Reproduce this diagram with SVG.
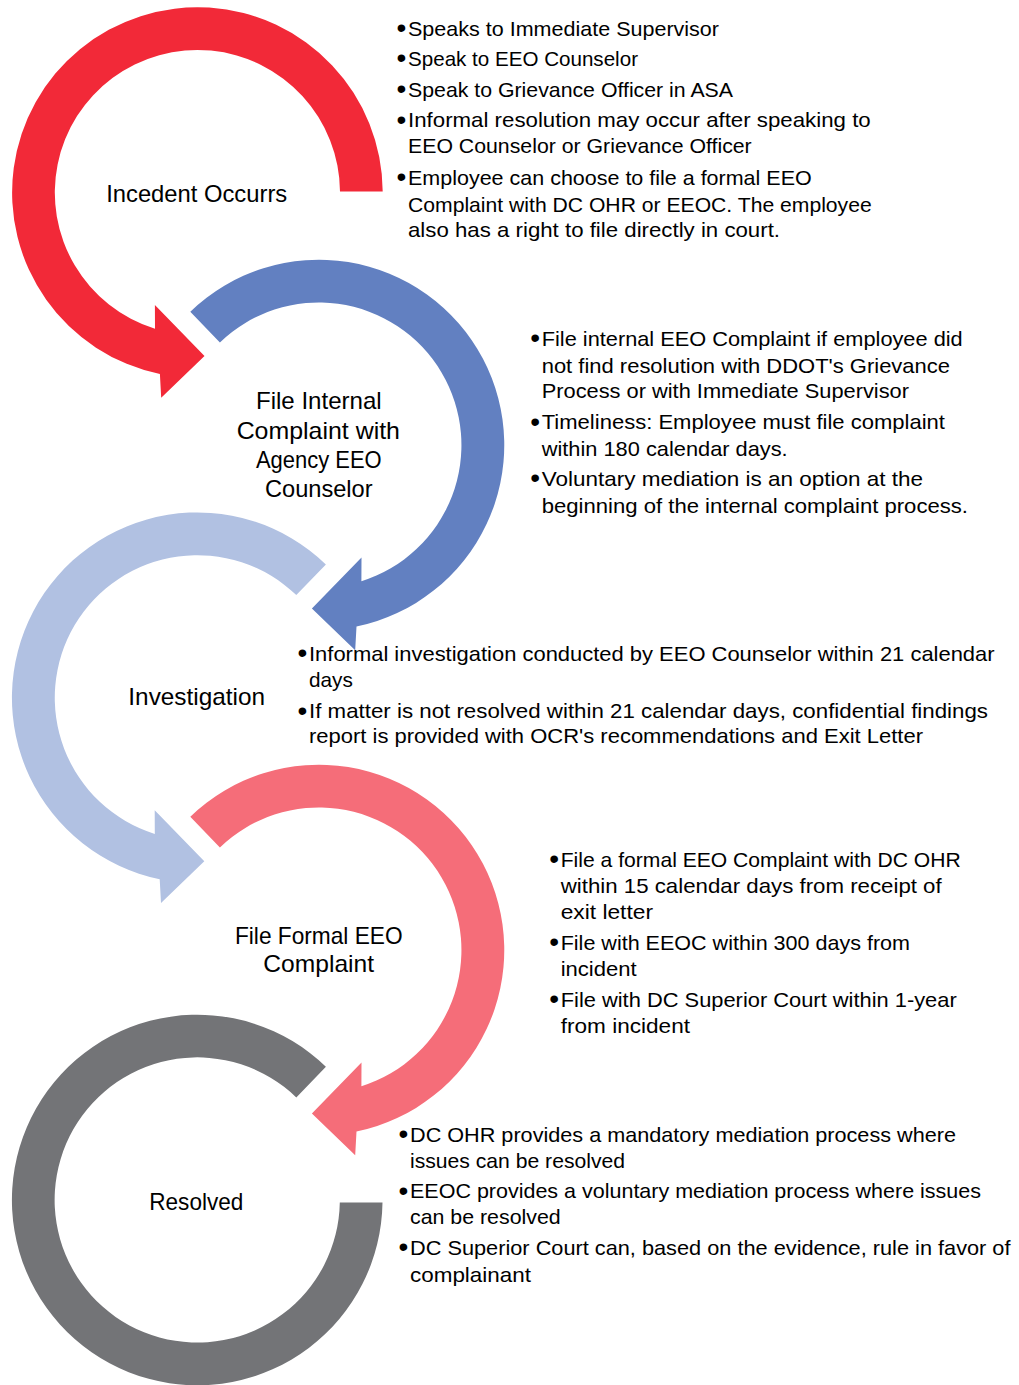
<svg xmlns="http://www.w3.org/2000/svg" width="1019" height="1385" viewBox="0 0 1019 1385">
<style>
.lbl{font-family:"Liberation Sans",Arial,sans-serif;font-size:24px;fill:#000;text-anchor:middle}
.txt{font-family:"Liberation Sans",Arial,sans-serif;font-size:21px;fill:#000}
.bul{font-family:"Liberation Sans",Arial,sans-serif;font-size:28px;fill:#000}
.red{fill:#F22938}.blue{fill:#6280C1}.lblue{fill:#B1C1E2}.pink{fill:#F56D79}.gray{fill:#737477}
</style>
<rect width="1019" height="1385" fill="#fff"/>
<g id="connectors"></g>
<g id="step1">
<path class="red" d="M 382.7 191.5 A 185.3 185.3 0 1 0 159.9 374 L 161.2 397.8 L 204.5 356 L 154.9 305.1 L 155 328.7 A 142.6 142.6 0 1 1 340 191.5 Z"/>
<text class="lbl" x="196.7" y="201.7" textLength="181" lengthAdjust="spacingAndGlyphs">Incedent Occurrs</text>
</g>
<g id="step2">
<path class="blue" d="M 190.3 311.7 A 185.3 185.3 0 1 1 356.5 626.5 L 355.2 650.3 L 311.9 608.5 L 361.5 557.6 L 361.4 581.2 A 142.6 142.6 0 1 0 219.9 342.4 Z"/>
<text class="lbl" x="318.8" y="409.3" textLength="125.7" lengthAdjust="spacingAndGlyphs">File Internal</text>
<text class="lbl" x="318.3" y="439" textLength="163.3" lengthAdjust="spacingAndGlyphs">Complaint with</text>
<text class="lbl" x="318.8" y="468.3" textLength="125.7" lengthAdjust="spacingAndGlyphs">Agency EEO</text>
<text class="lbl" x="318.8" y="497.3" textLength="107.7" lengthAdjust="spacingAndGlyphs">Counselor</text>
</g>
<g id="step3">
<path class="lblue" d="M 325.9 564.4 A 185.3 185.3 0 1 0 159.7 879.2 L 161 903 L 204.3 861.2 L 154.7 810.3 L 154.8 833.9 A 142.6 142.6 0 1 1 296.3 595.1 Z"/>
<text class="lbl" x="196.7" y="705" textLength="136.7" lengthAdjust="spacingAndGlyphs">Investigation</text>
</g>
<g id="step4">
<path class="pink" d="M 190.3 816.7 A 185.3 185.3 0 1 1 356.5 1131.5 L 355.2 1155.3 L 311.9 1113.5 L 361.5 1062.6 L 361.4 1086.2 A 142.6 142.6 0 1 0 219.9 847.4 Z"/>
<text class="lbl" x="318.8" y="944" textLength="167.7" lengthAdjust="spacingAndGlyphs">File Formal EEO</text>
<text class="lbl" x="318.7" y="972.3" textLength="110.7" lengthAdjust="spacingAndGlyphs">Complaint</text>
</g>
<g id="step5">
<path class="gray" d="M 325.9 1066.7 A 185.3 185.3 0 1 0 382.5 1202.5 L 339.8 1202.5 A 142.6 142.6 0 1 1 296.3 1097.4 Z"/>
<text class="lbl" x="196.3" y="1210" textLength="94" lengthAdjust="spacingAndGlyphs">Resolved</text>
</g>
<g id="notes1">
<text class="bul" x="396.5" y="37">•</text>
<text class="txt" x="408" y="35.7" textLength="311" lengthAdjust="spacingAndGlyphs">Speaks to Immediate Supervisor</text>
<text class="bul" x="396.5" y="67">•</text>
<text class="txt" x="408" y="65.7" textLength="230" lengthAdjust="spacingAndGlyphs">Speak to EEO Counselor</text>
<text class="bul" x="396.5" y="98">•</text>
<text class="txt" x="408" y="96.7" textLength="325" lengthAdjust="spacingAndGlyphs">Speak to Grievance Officer in ASA</text>
<text class="bul" x="396.5" y="128.6">•</text>
<text class="txt" x="408" y="127.3" textLength="462.7" lengthAdjust="spacingAndGlyphs">Informal resolution may occur after speaking to</text>
<text class="txt" x="408" y="153.3" textLength="343.7" lengthAdjust="spacingAndGlyphs">EEO Counselor or Grievance Officer</text>
<text class="bul" x="396.5" y="186.3">•</text>
<text class="txt" x="408" y="185" textLength="403.7" lengthAdjust="spacingAndGlyphs">Employee can choose to file a formal EEO</text>
<text class="txt" x="408" y="211.7" textLength="463.7" lengthAdjust="spacingAndGlyphs">Complaint with DC OHR or EEOC. The employee</text>
<text class="txt" x="408" y="237.3" textLength="372" lengthAdjust="spacingAndGlyphs">also has a right to file directly in court.</text>
</g>
<g id="notes2">
<text class="bul" x="530.2" y="347.3">•</text>
<text class="txt" x="541.7" y="346" textLength="421" lengthAdjust="spacingAndGlyphs">File internal EEO Complaint if employee did</text>
<text class="txt" x="541.7" y="372.7" textLength="408.3" lengthAdjust="spacingAndGlyphs">not find resolution with DDOT's Grievance</text>
<text class="txt" x="541.7" y="398.3" textLength="367.3" lengthAdjust="spacingAndGlyphs">Process or with Immediate Supervisor</text>
<text class="bul" x="530.2" y="430.6">•</text>
<text class="txt" x="541.7" y="429.3" textLength="403.3" lengthAdjust="spacingAndGlyphs">Timeliness: Employee must file complaint</text>
<text class="txt" x="541.7" y="455.7" textLength="246" lengthAdjust="spacingAndGlyphs">within 180 calendar days.</text>
<text class="bul" x="530.2" y="487.3">•</text>
<text class="txt" x="541.7" y="486" textLength="381.3" lengthAdjust="spacingAndGlyphs">Voluntary mediation is an option at the</text>
<text class="txt" x="541.7" y="512.7" textLength="426.3" lengthAdjust="spacingAndGlyphs">beginning of the internal complaint process.</text>
</g>
<g id="notes3">
<text class="bul" x="297.5" y="662.3">•</text>
<text class="txt" x="309" y="661" textLength="685.6" lengthAdjust="spacingAndGlyphs">Informal investigation conducted by EEO Counselor within 21 calendar</text>
<text class="txt" x="309" y="687.3" textLength="43.8" lengthAdjust="spacingAndGlyphs">days</text>
<text class="bul" x="297.5" y="719.6">•</text>
<text class="txt" x="309" y="718.3" textLength="679" lengthAdjust="spacingAndGlyphs">If matter is not resolved within 21 calendar days, confidential findings</text>
<text class="txt" x="309" y="743.3" textLength="614" lengthAdjust="spacingAndGlyphs">report is provided with OCR's recommendations and Exit Letter</text>
</g>
<g id="notes4">
<text class="bul" x="549.2" y="868">•</text>
<text class="txt" x="560.7" y="866.7" textLength="400" lengthAdjust="spacingAndGlyphs">File a formal EEO Complaint with DC OHR</text>
<text class="txt" x="560.7" y="893.3" textLength="381" lengthAdjust="spacingAndGlyphs">within 15 calendar days from receipt of</text>
<text class="txt" x="560.7" y="919" textLength="92.3" lengthAdjust="spacingAndGlyphs">exit letter</text>
<text class="bul" x="549.2" y="951.3">•</text>
<text class="txt" x="560.7" y="950" textLength="349.3" lengthAdjust="spacingAndGlyphs">File with EEOC within 300 days from</text>
<text class="txt" x="560.7" y="976" textLength="76" lengthAdjust="spacingAndGlyphs">incident</text>
<text class="bul" x="549.2" y="1008">•</text>
<text class="txt" x="560.7" y="1006.7" textLength="396" lengthAdjust="spacingAndGlyphs">File with DC Superior Court within 1-year</text>
<text class="txt" x="560.7" y="1032.7" textLength="129.3" lengthAdjust="spacingAndGlyphs">from incident</text>
</g>
<g id="notes5">
<text class="bul" x="398.5" y="1143">•</text>
<text class="txt" x="410" y="1141.7" textLength="546" lengthAdjust="spacingAndGlyphs">DC OHR provides a mandatory mediation process where</text>
<text class="txt" x="410" y="1168.3" textLength="215" lengthAdjust="spacingAndGlyphs">issues can be resolved</text>
<text class="bul" x="398.5" y="1199.6">•</text>
<text class="txt" x="410" y="1198.3" textLength="571" lengthAdjust="spacingAndGlyphs">EEOC provides a voluntary mediation process where issues</text>
<text class="txt" x="410" y="1224.3" textLength="150.7" lengthAdjust="spacingAndGlyphs">can be resolved</text>
<text class="bul" x="398.5" y="1256.3">•</text>
<text class="txt" x="410" y="1255" textLength="600.5" lengthAdjust="spacingAndGlyphs">DC Superior Court can, based on the evidence, rule in favor of</text>
<text class="txt" x="410" y="1281.7" textLength="121" lengthAdjust="spacingAndGlyphs">complainant</text>
</g>
</svg>
